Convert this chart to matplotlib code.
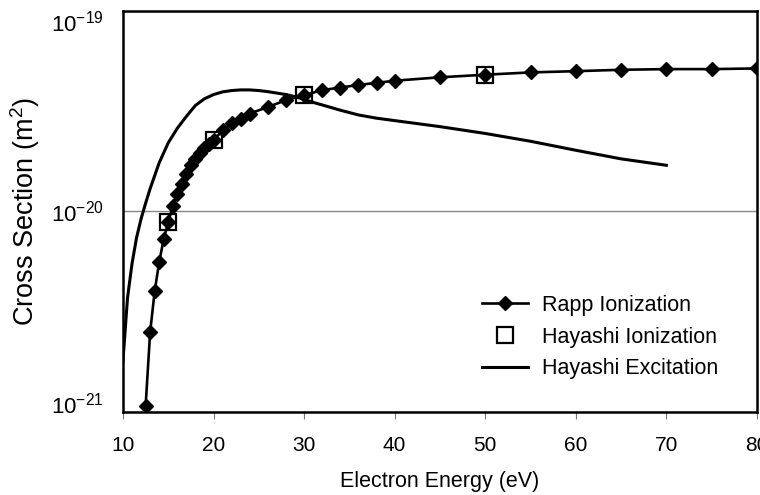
import matplotlib
matplotlib.use("Agg")
import matplotlib.pyplot as plt
from matplotlib.ticker import NullLocator
from matplotlib.transforms import ScaledTranslation

plt.rcParams['font.family'] = ['Liberation Sans', 'DejaVu Sans']
plt.rcParams['mathtext.fontset'] = 'custom'
plt.rcParams['mathtext.rm'] = 'Liberation Sans'
plt.rcParams['mathtext.it'] = 'Liberation Sans:italic'
plt.rcParams['mathtext.default'] = 'regular'

# Rapp ionization cross section (eV, m^2)
rapp_energy = [12.5, 13, 13.5, 14, 14.5, 15, 15.5, 16, 16.5, 17, 17.5, 18, 18.5,
               19, 19.5, 20, 21, 22, 23, 24, 26, 28, 30, 32, 34, 36, 38, 40,
               45, 50, 55, 60, 65, 70, 75, 80]
rapp_sigma = [1.07e-21, 2.5e-21, 4.0e-21, 5.6e-21, 7.3e-21, 8.85e-21, 1.06e-20,
              1.22e-20, 1.37e-20, 1.54e-20, 1.70e-20, 1.82e-20, 1.95e-20,
              2.07e-20, 2.16e-20, 2.26e-20, 2.54e-20, 2.75e-20, 2.90e-20,
              3.08e-20, 3.32e-20, 3.59e-20, 3.80e-20, 4.03e-20, 4.15e-20,
              4.28e-20, 4.38e-20, 4.49e-20, 4.67e-20, 4.81e-20, 4.94e-20,
              5.01e-20, 5.09e-20, 5.13e-20, 5.13e-20, 5.17e-20]

# Hayashi ionization points
hay_ion_energy = [15, 20, 30, 50]
hay_ion_sigma = [8.9e-21, 2.26e-20, 3.8e-20, 4.79e-20]

# Hayashi excitation curve
hay_exc_energy = [10, 10.5, 11, 11.5, 12, 12.5, 13, 14, 15, 16, 17, 18, 19,
                  20, 21, 22, 23, 24, 25, 26, 28, 29, 30, 31, 32, 34, 36, 38,
                  40, 45, 50, 55, 60, 65, 70]
hay_exc_sigma = [1.8e-21, 3.7e-21, 5.5e-21, 7.4e-21, 9.2e-21, 1.1e-20,
                 1.3e-20, 1.75e-20, 2.2e-20, 2.6e-20, 2.98e-20, 3.38e-20,
                 3.65e-20, 3.83e-20, 3.95e-20, 4.01e-20, 4.04e-20, 4.04e-20,
                 4.01e-20, 3.96e-20, 3.83e-20, 3.74e-20, 3.62e-20, 3.5e-20,
                 3.4e-20, 3.2e-20, 3.03e-20, 2.92e-20, 2.84e-20, 2.65e-20,
                 2.45e-20, 2.24e-20, 2.02e-20, 1.83e-20, 1.70e-20]

x_ticks = [10, 20, 30, 40, 50, 60, 70, 80]
y_ticks = [1e-21, 1e-20, 1e-19]

fig = plt.figure(figsize=(7.6, 4.95), dpi=100)
ax = fig.add_axes([0.1618, 0.1677, 0.8342, 0.8101])

ax.plot(rapp_energy, rapp_sigma, color='black', lw=1.9, marker='D',
        markersize=7, label='Rapp Ionization', zorder=3)
ax.plot(hay_ion_energy, hay_ion_sigma, ls='none', marker='s', markersize=11.5,
        markerfacecolor='none', markeredgecolor='black', markeredgewidth=1.6,
        label='Hayashi Ionization', zorder=4)
ax.plot(hay_exc_energy, hay_exc_sigma, color='black', lw=2.2,
        label='Hayashi Excitation', zorder=2)

ax.set_yscale('log')
ax.set_xlim(10, 80)
ax.set_ylim(1e-21, 1e-19)
ax.set_xticks(x_ticks)
ax.set_yticks(y_ticks)
ax.yaxis.set_minor_locator(NullLocator())
ax.grid(axis='y', which='major', color='#888888', lw=1.0)
ax.set_axisbelow(True)

ax.tick_params(axis='x', direction='out', length=5, width=0.8, color='#777777',
               labelsize=15, pad=12)
ax.tick_params(axis='y', length=0, labelsize=16, pad=14)
# keep the end labels inside the axis range
ticks = ax.yaxis.get_major_ticks()
ticks[0].label1.set_va('bottom')
ticks[0].label1.set_transform(ticks[0].label1.get_transform()
                              + ScaledTranslation(0, -5 / 72, fig.dpi_scale_trans))
ticks[-1].label1.set_va('top')

for s in ax.spines.values():
    s.set_linewidth(1.8)

ax.set_xlabel('Electron Energy (eV)', fontsize=15.5, labelpad=12)
ax.set_ylabel('Cross Section (m$^2$)', fontsize=19.5, labelpad=6)

ax.legend(loc='upper left', bbox_to_anchor=(0.566, 0.292), frameon=False,
          fontsize=15.5, handlelength=2.14, handletextpad=0.65,
          labelspacing=0.5, borderpad=0, borderaxespad=0)

fig.savefig('out.png', dpi=100)
